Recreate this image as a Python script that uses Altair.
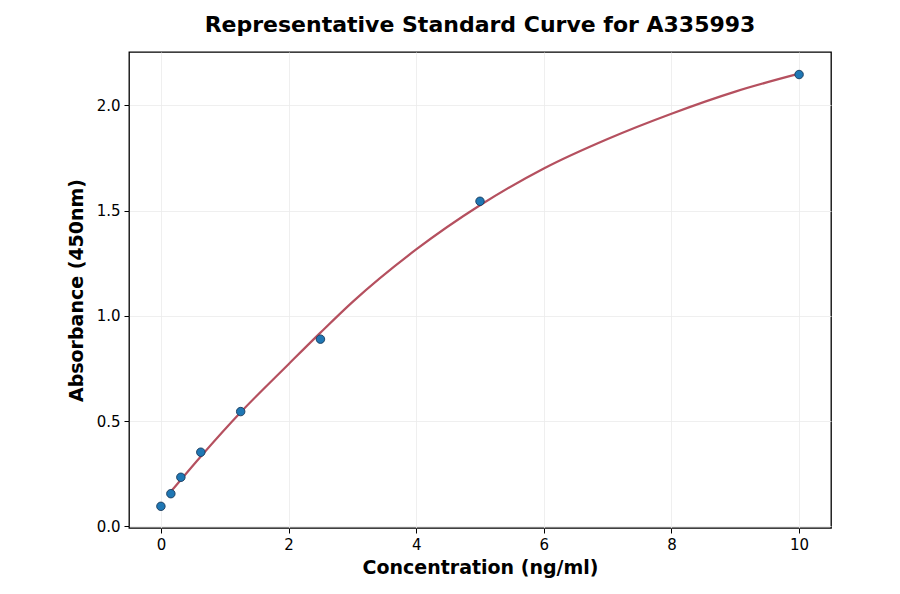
import altair as alt
import pandas as pd

# Measured standards
conc = [0.0, 0.156, 0.3125, 0.625, 1.25, 2.5, 5.0, 10.0]
absorb = [0.095, 0.155, 0.233, 0.352, 0.545, 0.889, 1.544, 2.146]

# Fitted curve
curve_x = [0.156, 0.625, 1.25, 2.0, 2.5, 3.0, 4.0, 5.0, 6.0, 7.0, 8.0, 9.0, 10.0]
curve_y = [0.165, 0.332, 0.542, 0.770, 0.920, 1.065, 1.315, 1.525, 1.700, 1.840, 1.960, 2.065, 2.150]

x_ticks = [0, 2, 4, 6, 8, 10]
y_ticks = [0.0, 0.5, 1.0, 1.5, 2.0]

pts = pd.DataFrame({"x": conc, "y": absorb})
fit = pd.DataFrame({"x": curve_x, "y": curve_y})

xscale = alt.Scale(domain=[-0.5, 10.5], nice=False, zero=False)
yscale = alt.Scale(domain=[-0.008, 2.253], nice=False, zero=False)

xaxis = alt.Axis(values=x_ticks, format="d", title="Concentration (ng/ml)",
                 grid=True, gridColor="#ebebeb", gridWidth=0.8,
                 tickColor="black", tickSize=5, tickWidth=1,
                 domain=False, labelPadding=4, titlePadding=6)
yaxis = alt.Axis(values=y_ticks, format=".1f", title="Absorbance (450nm)",
                 grid=True, gridColor="#ebebeb", gridWidth=0.8,
                 tickColor="black", tickSize=5, tickWidth=1,
                 domain=False, labelPadding=4, titlePadding=10)

line = alt.Chart(fit).mark_line(color="#b5505f", strokeWidth=2.2, interpolate="monotone").encode(
    x=alt.X("x:Q", scale=xscale, axis=xaxis),
    y=alt.Y("y:Q", scale=yscale, axis=yaxis),
)

points = alt.Chart(pts).mark_circle(size=72, color="#1f77b4", opacity=1,
                                     stroke="#1b3a5a", strokeWidth=0.9).encode(
    x=alt.X("x:Q", scale=xscale),
    y=alt.Y("y:Q", scale=yscale),
)

chart = alt.layer(line, points).properties(
    width=702,
    height=476,
    title=alt.TitleParams("Representative Standard Curve for A335993",
                          anchor="middle", fontSize=22, fontWeight="bold",
                          font="DejaVu Sans", color="black", offset=20, dy=22,
                          baseline="alphabetic"),
    autosize=alt.AutoSizeParams(type="none"),
    padding={"left": 121, "top": 44, "right": 61, "bottom": 58},
).configure_view(
    stroke="black", strokeWidth=1.3
).configure_axis(
    labelFont="DejaVu Sans", labelFontSize=15, labelColor="black",
    titleFont="DejaVu Sans", titleFontSize=19, titleFontWeight="bold", titleColor="black",
)

chart.save("out.html", embed_options={"renderer": "svg", "actions": False})
